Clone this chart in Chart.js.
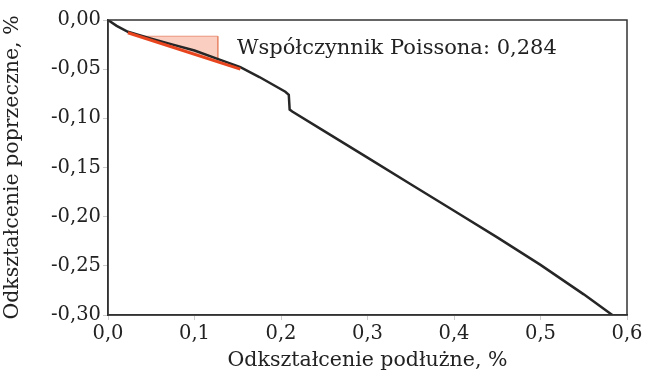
<!DOCTYPE html>
<html>
<head>
<meta charset="utf-8">
<script src="https://cdn.jsdelivr.net/npm/chart.js@4"></script>
<style>
  html, body { margin: 0; padding: 0; background: #fff; }
  #wrap { width: 656px; height: 376px; }
</style>
</head>
<body>
<div id="wrap"><canvas id="strain-chart"></canvas></div>
<script>
// longitudinal vs transverse strain, %
const strainX = [0, 0.01, 0.023, 0.05, 0.075, 0.1, 0.125, 0.153, 0.175, 0.205, 0.209, 0.210, 0.213, 0.25, 0.3, 0.35, 0.4, 0.45, 0.5, 0.55, 0.583];
const strainY = [0, -0.006, -0.012, -0.019, -0.025, -0.031, -0.039, -0.048, -0.058, -0.073, -0.076, -0.091, -0.093, -0.113, -0.140, -0.167, -0.194, -0.221, -0.249, -0.279, -0.300];

// fitted line for Poisson's ratio
const fitX = [0.023, 0.153];
const fitY = [-0.013, -0.050];

// slope triangle
const triX = [0.035, 0.127, 0.127, 0.035];
const triY = [-0.0165, -0.0165, -0.0425, -0.0165];

const poissonLabel = 'Współczynnik Poissona: 0,284';
const xTicks = [0, 0.1, 0.2, 0.3, 0.4, 0.5, 0.6];
const yTicks = [0, -0.05, -0.10, -0.15, -0.20, -0.25, -0.30];

const toPoints = (xs, ys) => xs.map((x, i) => ({ x: x, y: ys[i] }));
const serif = 'DejaVu Serif';

// frame around plot + annotation text
const framePlugin = {
  id: 'frame',
  afterDraw(chart) {
    const { ctx, chartArea: a, scales } = chart;
    ctx.save();
    ctx.strokeStyle = '#333';
    ctx.lineWidth = 1.5;
    ctx.strokeRect(a.left, a.top, a.right - a.left, a.bottom - a.top);
    ctx.fillStyle = '#222';
    ctx.font = '21px "' + serif + '"';
    ctx.textBaseline = 'middle';
    ctx.fillText(poissonLabel, scales.x.getPixelForValue(0.149), scales.y.getPixelForValue(-0.029));
    ctx.restore();
  }
};

const ctx = document.getElementById('strain-chart').getContext('2d');
new Chart(ctx, {
  type: 'scatter',
  data: {
    datasets: [
      {
        data: toPoints(triX, triY),
        showLine: true,
        fill: 'shape',
        backgroundColor: 'rgba(245,165,140,0.55)',
        borderColor: 'rgba(230,130,100,0.8)',
        borderWidth: 1,
        pointRadius: 0,
        order: 3
      },
      {
        data: toPoints(strainX, strainY),
        showLine: true,
        borderColor: '#262626',
        borderWidth: 2.5,
        pointRadius: 0,
        tension: 0,
        order: 2
      },
      {
        data: toPoints(fitX, fitY),
        showLine: true,
        borderColor: '#e8451f',
        borderWidth: 3,
        pointRadius: 0,
        order: 1
      }
    ]
  },
  options: {
    responsive: true,
    maintainAspectRatio: false,
    animation: false,
    layout: { padding: { top: 20, right: 29, left: 0, bottom: 0 } },
    plugins: { legend: { display: false }, tooltip: { enabled: false } },
    scales: {
      x: {
        min: 0, max: 0.6,
        afterBuildTicks: s => { s.ticks = xTicks.map(v => ({ value: v })); },
        afterFit: s => { s.height = 61; },
        grid: { drawOnChartArea: false, tickLength: 5, color: '#ccc' },
        border: { color: '#333', width: 1.5 },
        ticks: {
          color: '#222', padding: 2,
          font: { family: serif, size: 19.5 },
          callback: v => v.toFixed(1).replace('.', ',')
        },
        title: {
          display: true, text: 'Odkształcenie podłużne, %',
          color: '#222', padding: { top: 0, bottom: 3 },
          font: { family: serif, size: 20.5 }
        }
      },
      y: {
        min: -0.3, max: 0,
        afterBuildTicks: s => { s.ticks = yTicks.map(v => ({ value: v })); },
        afterFit: s => { s.width = 108; },
        grid: { drawOnChartArea: false, tickLength: 5, color: '#ccc' },
        border: { color: '#333', width: 1.5 },
        ticks: {
          color: '#222', padding: 2,
          font: { family: serif, size: 19.5 },
          callback: v => v.toFixed(2).replace('.', ',')
        },
        title: {
          display: true, text: 'Odkształcenie poprzeczne, %',
          color: '#222', padding: { top: 0, bottom: 2 },
          font: { family: serif, size: 20.5 }
        }
      }
    }
  },
  plugins: [framePlugin]
});
</script>
</body>
</html>
